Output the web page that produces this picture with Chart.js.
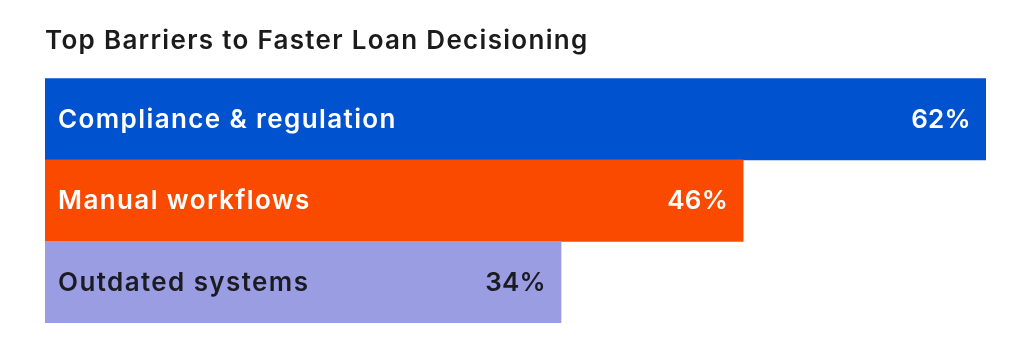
<!DOCTYPE html>
<html>
<head>
<meta charset="utf-8">
<script src="https://cdn.jsdelivr.net/npm/chart.js@4"></script>
<style>
  html, body { margin: 0; padding: 0; background: #fff; }
  #wrap { width: 1024px; height: 345px; }
</style>
</head>
<body>
<div id="wrap"><canvas id="barreiras"></canvas></div>
<script>
const categories = ['Compliance & regulation', 'Manual workflows', 'Outdated systems'];
const values = [62, 46, 34];
const title = 'Top Barriers to Faster Loan Decisioning';

const barColors = ['#0052cf', '#fa4a00', '#9b9de2'];
const textColors = ['#ffffff', '#ffffff', '#1b1b24'];

// espaçamento entre letras, a fonte original é mais larga
const spacing = {
    id: 'spacing',
    beforeDraw(chart) { chart.ctx.letterSpacing = '1.3px'; },
    afterDraw(chart) { chart.ctx.letterSpacing = '0px'; }
};

// escreve o nome e o valor dentro de cada barra
const barLabels = {
    id: 'barLabels',
    afterDatasetsDraw(chart) {
        const ctx = chart.ctx;
        const meta = chart.getDatasetMeta(0);
        ctx.save();
        ctx.font = '600 26px Inter';
        ctx.textBaseline = 'middle';
        meta.data.forEach((bar, i) => {
            ctx.fillStyle = textColors[i];
            ctx.letterSpacing = '1.4px';
            ctx.textAlign = 'left';
            ctx.fillText(categories[i], bar.base + 13, bar.y + 1);
            ctx.letterSpacing = '0.3px';
            ctx.textAlign = 'right';
            ctx.fillText(values[i] + '%', bar.x - 15, bar.y + 1);
        });
        ctx.restore();
    }
};

const ctx = document.getElementById('barreiras');
new Chart(ctx, {
    type: 'bar',
    data: {
        labels: categories,
        datasets: [{
            data: values,
            backgroundColor: barColors,
            borderWidth: 0,
            barPercentage: 1,
            categoryPercentage: 1
        }]
    },
    options: {
        indexAxis: 'y',
        responsive: true,
        maintainAspectRatio: false,
        animation: false,
        layout: {
            padding: { left: 45, right: 38, top: 26, bottom: 22 }
        },
        scales: {
            x: { display: false, min: 0, max: 62 },
            y: { display: false }
        },
        plugins: {
            legend: { display: false },
            tooltip: { enabled: false },
            title: {
                display: true,
                text: title,
                align: 'start',
                color: '#1b1b1b',
                font: { family: 'Inter', size: 26, weight: '600', lineHeight: 1.2 },
                padding: { top: 0, bottom: 21 }
            }
        }
    },
    plugins: [spacing, barLabels]
});
</script>
</body>
</html>
